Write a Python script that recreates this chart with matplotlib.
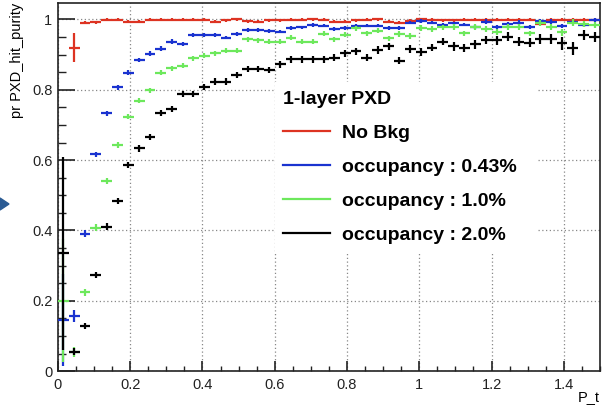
import numpy as np
import matplotlib
matplotlib.use("Agg")
import matplotlib.pyplot as plt
from matplotlib.lines import Line2D
from matplotlib.patches import Polygon
from matplotlib.ticker import MultipleLocator, FormatStrFormatter

plt.rcParams['font.family'] = ['Liberation Sans', 'DejaVu Sans']

# 50 bins of 0.03 in P_t
bin_width = 0.03
pt = np.arange(50) * bin_width + bin_width / 2

no_bkg = [np.nan, 0.920, 0.991, 0.992, 0.999, 0.999, 0.993, 0.993, 0.999, 0.999,
          0.999, 0.999, 0.999, 0.999, 0.993, 0.997, 1.000, 0.995, 0.993, 0.997,
          0.997, 0.999, 0.999, 1.000, 0.999, 0.993, 0.994, 0.997, 0.999, 1.000,
          0.994, 0.991, 0.996, 1.000, 0.999, 0.997, 0.997, 0.999, 0.999, 0.999,
          0.999, 0.999, 0.999, 0.999, 0.988, 0.999, 0.999, 0.999, 0.999, 0.999]
no_bkg_err = [0, 0.042] + [0.004] * 48

occ043 = [0.145, 0.157, 0.390, 0.616, 0.733, 0.807, 0.849, 0.884, 0.903, 0.917,
          0.937, 0.929, 0.956, 0.956, 0.956, 0.948, 0.958, 0.970, 0.970, 0.967,
          0.965, 0.975, 0.977, 0.984, 0.982, 0.972, 0.975, 0.982, 0.982, 0.982,
          0.975, 0.975, 0.991, 0.996, 0.991, 0.984, 0.989, 0.985, 0.979, 0.994,
          0.979, 0.987, 0.991, 0.978, 0.996, 0.994, 0.982, 0.994, 0.984, 0.999]
occ043_err = [0.13, 0.018, 0.010, 0.008, 0.008, 0.007, 0.007, 0.006, 0.006, 0.006,
              0.006, 0.006, 0.005, 0.005, 0.005, 0.005, 0.005, 0.005, 0.005, 0.005,
              0.005, 0.005, 0.005, 0.005, 0.005, 0.005, 0.005, 0.005, 0.005, 0.005,
              0.005, 0.005, 0.005, 0.005, 0.005, 0.005, 0.005, 0.005, 0.006, 0.006,
              0.006, 0.006, 0.006, 0.006, 0.006, 0.006, 0.006, 0.006, 0.006, 0.006]

occ10 = [0.200, 0.055, 0.224, 0.408, 0.541, 0.643, 0.723, 0.769, 0.799, 0.849,
         0.861, 0.868, 0.890, 0.897, 0.904, 0.911, 0.911, 0.944, 0.941, 0.937,
         0.937, 0.948, 0.937, 0.937, 0.959, 0.944, 0.956, 0.975, 0.960, 0.968,
         0.946, 0.959, 0.953, 0.975, 0.972, 0.977, 0.979, 0.960, 0.978, 0.972,
         0.965, 0.979, 0.979, 0.960, 0.989, 0.978, 0.963, 0.991, 0.986, 0.984]
occ10_err = [0.175, 0.015, 0.010, 0.009, 0.008, 0.008, 0.007, 0.007, 0.007, 0.007,
             0.007, 0.007, 0.007, 0.007, 0.007, 0.007, 0.007, 0.007, 0.007, 0.007,
             0.007, 0.007, 0.007, 0.007, 0.007, 0.007, 0.007, 0.007, 0.007, 0.007,
             0.008, 0.008, 0.008, 0.008, 0.008, 0.008, 0.008, 0.008, 0.008, 0.008,
             0.008, 0.008, 0.008, 0.008, 0.008, 0.008, 0.009, 0.009, 0.009, 0.009]

occ20 = [0.335, 0.055, 0.128, 0.273, 0.411, 0.484, 0.586, 0.633, 0.665, 0.733,
         0.746, 0.788, 0.788, 0.807, 0.823, 0.823, 0.842, 0.859, 0.859, 0.856,
         0.873, 0.887, 0.887, 0.887, 0.887, 0.891, 0.904, 0.910, 0.891, 0.913,
         0.923, 0.883, 0.916, 0.907, 0.920, 0.937, 0.923, 0.918, 0.929, 0.942,
         0.941, 0.951, 0.937, 0.934, 0.944, 0.944, 0.932, 0.918, 0.956, 0.951]
occ20_err = [0.275, 0.010, 0.009, 0.009, 0.009, 0.009, 0.009, 0.009, 0.009, 0.009,
             0.009, 0.009, 0.009, 0.009, 0.009, 0.009, 0.009, 0.009, 0.009, 0.009,
             0.010, 0.010, 0.010, 0.010, 0.010, 0.010, 0.010, 0.010, 0.010, 0.010,
             0.011, 0.011, 0.011, 0.011, 0.011, 0.011, 0.012, 0.012, 0.012, 0.012,
             0.013, 0.013, 0.013, 0.013, 0.014, 0.014, 0.018, 0.018, 0.014, 0.014]

series = [
    ('No Bkg', no_bkg, no_bkg_err, '#dd3322'),
    ('occupancy : 0.43%', occ043, occ043_err, '#1a33d0'),
    ('occupancy : 1.0%', occ10, occ10_err, '#6de85c'),
    ('occupancy : 2.0%', occ20, occ20_err, 'black'),
]

fig = plt.figure(figsize=(6.03, 4.11), dpi=100)
ax = fig.add_axes([0.096, 0.097, 0.899, 0.896])

for name, vals, errs, col in series:
    ax.errorbar(pt, vals, xerr=bin_width / 2, yerr=errs, fmt='none',
                ecolor=col, elinewidth=1.6, capsize=0, zorder=3)

ax.set_xlim(0, 1.5)
ax.set_ylim(0, 1.047)
ax.xaxis.set_major_locator(MultipleLocator(0.2))
ax.xaxis.set_minor_locator(MultipleLocator(0.05))
ax.yaxis.set_major_locator(MultipleLocator(0.2))
ax.yaxis.set_minor_locator(MultipleLocator(0.05))
ax.xaxis.set_major_formatter(FormatStrFormatter('%g'))
ax.yaxis.set_major_formatter(FormatStrFormatter('%g'))

ax.tick_params(which='both', direction='in', colors='#222222', labelsize=10.5)
ax.tick_params(axis='y', which='major', length=12, width=1.2, pad=4)
ax.tick_params(axis='y', which='minor', length=6, width=1.0)
ax.tick_params(axis='x', which='major', length=7.5, width=1.2, pad=5)
ax.tick_params(axis='x', which='minor', length=3.8, width=1.0)
for sp in ax.spines.values():
    sp.set_linewidth(1.2)
    sp.set_color('#222222')

ax.grid(True, which='major', color='#888888', linestyle=(0, (1, 2)), linewidth=0.9)
ax.set_axisbelow(True)

ax.set_ylabel('pr PXD_hit_purity', fontsize=10.5, loc='top')
ax.yaxis.set_label_coords(-0.063, 1.0)
ax.set_xlabel('P_t', fontsize=10.5, loc='right')
ax.xaxis.set_label_coords(1.0, -0.05)

handles = [Line2D([], [], color=s[3], linewidth=1.6) for s in series]
leg = ax.legend(handles, [s[0] for s in series], title='1-layer PXD',
                loc='upper left', bbox_to_anchor=(0.40, 0.323, 0.485, 0.462),
                mode='expand',
                prop={'weight': 'bold', 'size': 14},
                title_fontproperties={'weight': 'bold', 'size': 14},
                frameon=True, fancybox=False, facecolor='white', edgecolor='none',
                framealpha=1, handlelength=2.4, handletextpad=0.6,
                labelspacing=0.84, borderpad=0.45, borderaxespad=0)
leg._legend_box.align = 'left'

# small arrow mark at the left edge of the slide
fig.add_artist(Polygon([[0, 1 - 198 / 411], [9 / 603, 1 - 204 / 411], [0, 1 - 210 / 411]],
                       closed=True, transform=fig.transFigure, color='#2b5b94'))

fig.savefig('out.png', dpi=100)
